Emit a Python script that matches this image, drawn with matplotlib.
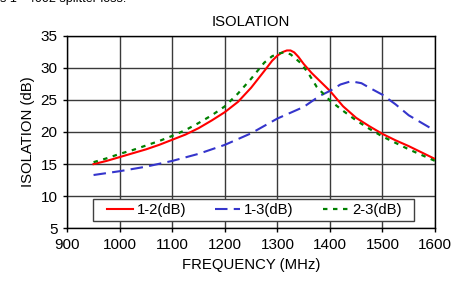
import matplotlib
matplotlib.use("Agg")
import matplotlib.pyplot as plt
from matplotlib.patches import Rectangle

plt.rcParams['font.family'] = ['Liberation Sans', 'DejaVu Sans']

freq_12 = [950, 975, 1000, 1025, 1050, 1075, 1100, 1125, 1150, 1175, 1200, 1225, 1250,
           1275, 1290, 1300, 1310, 1318, 1325, 1332, 1340, 1350, 1365, 1380, 1400, 1425,
           1450, 1475, 1500, 1525, 1550, 1575, 1600]
iso_12 = [15.0, 15.5, 16.1, 16.7, 17.3, 18.0, 18.8, 19.6, 20.6, 21.8, 23.1, 24.7, 26.9,
          29.5, 31.1, 31.9, 32.45, 32.7, 32.7, 32.4, 31.7, 30.6, 29.2, 28.0, 26.4, 24.0,
          22.2, 20.9, 19.7, 18.7, 17.8, 16.8, 15.8]

freq_13 = [950, 1000, 1050, 1100, 1150, 1200, 1250, 1300, 1350, 1380, 1400, 1420, 1440,
           1460, 1475, 1500, 1525, 1550, 1575, 1600]
iso_13 = [13.3, 13.9, 14.6, 15.5, 16.6, 18.0, 19.8, 22.1, 23.9, 25.6, 26.4, 27.4, 27.9,
          27.6, 26.9, 25.8, 24.3, 22.6, 21.4, 20.2]

freq_23 = [950, 975, 1000, 1025, 1050, 1075, 1100, 1125, 1150, 1175, 1200, 1225, 1250,
           1275, 1290, 1303, 1313, 1325, 1345, 1360, 1375, 1400, 1425, 1450, 1475, 1500,
           1525, 1550, 1575, 1600]
iso_23 = [15.3, 15.9, 16.6, 17.2, 17.9, 18.6, 19.4, 20.3, 21.4, 22.6, 24.0, 26.0, 28.3,
          30.8, 31.8, 32.25, 32.4, 32.1, 30.7, 29.0, 27.0, 24.9, 23.3, 21.8, 20.5, 19.3,
          18.3, 17.3, 16.4, 15.5]

labels = ['1-2(dB)', '1-3(dB)', '2-3(dB)']
x_ticks = [900, 1000, 1100, 1200, 1300, 1400, 1500, 1600]
y_ticks = [5, 10, 15, 20, 25, 30, 35]

fig = plt.figure(figsize=(4.66, 2.81), dpi=100)
ax = fig.add_axes([0.1444, 0.1875, 0.9335 - 0.1444, 0.873 - 0.1875])

ax.plot(freq_12, iso_12, color='#ff0000', lw=1.5, label=labels[0], zorder=3)
ax.plot(freq_13, iso_13, color='#3535cc', lw=1.5, dashes=(6, 3), label=labels[1], zorder=3)
ax.plot(freq_23, iso_23, color='#008000', lw=1.6, dashes=(2, 2.5), label=labels[2], zorder=3)

ax.set_xlim(900, 1600)
ax.set_ylim(5, 35)
ax.set_xticks(x_ticks)
ax.set_yticks(y_ticks)
ax.grid(True, color='#3a3a3a', lw=1.0)
ax.set_axisbelow(True)
for s in ax.spines.values():
    s.set_color('black')
    s.set_linewidth(1.0)
ax.tick_params(direction='out', length=3, width=1, labelsize=11, colors='black', pad=4)

ax.set_title('ISOLATION', fontsize=10.7, pad=7)
ax.set_xlabel('FREQUENCY (MHz)', fontsize=10.7, labelpad=4)
ax.set_ylabel('ISOLATION (dB)', fontsize=10.7, labelpad=4)

# legend frame box
ax.add_patch(Rectangle((0.070, 0.038), 0.943 - 0.070, 0.152 - 0.038, transform=ax.transAxes,
                       facecolor='white', edgecolor='#404040', lw=1.0, zorder=4))
leg = ax.legend(loc='center', bbox_to_anchor=(0.509, 0.095), ncol=3, fontsize=10.7,
                frameon=False, handlelength=1.7, handletextpad=0.27, columnspacing=1.95,
                borderpad=0.2, borderaxespad=0.0)
leg.set_zorder(5)

fig.text(0.0, 1.005, 's 1 - 4002 splitter loss.', fontsize=9, ha='left', va='center')

fig.savefig('out.png', dpi=100)
